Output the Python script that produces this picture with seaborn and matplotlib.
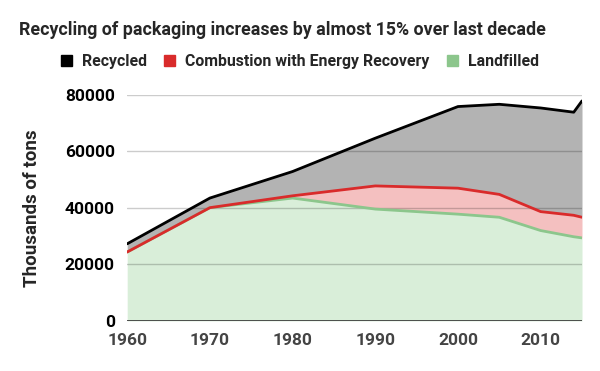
import numpy as np
import pandas as pd
import matplotlib
matplotlib.use('Agg')
import matplotlib.pyplot as plt
from matplotlib.patches import Patch
import seaborn as sns

# packaging waste, thousands of tons
years = [1960, 1970, 1980, 1990, 2000, 2005, 2010, 2014, 2015]
recycled = [2900, 3400, 8600, 16900, 28900, 31900, 36700, 36500, 41200]
combustion = [0, 0, 800, 8200, 9200, 8100, 6700, 7600, 7300]
landfilled = [24400, 40100, 43500, 39600, 37800, 36700, 32000, 29800, 29400]
series_names = ['Recycled', 'Combustion with Energy Recovery', 'Landfilled']
x_ticks = [1960, 1970, 1980, 1990, 2000, 2010]
y_ticks = [0, 20000, 40000, 60000, 80000]

sns.set_theme(style='white')
plt.rcParams['font.family'] = ['Roboto', 'DejaVu Sans']
plt.rcParams['font.weight'] = 'bold'

df = pd.DataFrame({'year': years, 'recycled': recycled,
                   'combustion': combustion, 'landfilled': landfilled})
# stacked totals: landfilled at the bottom, recycled on top
df['low'] = df['landfilled']
df['mid'] = df['low'] + df['combustion']
df['top'] = df['mid'] + df['recycled']

fig = plt.figure(figsize=(6, 3.71), dpi=100)
ax = fig.add_axes([0.212, 0.135, 0.758, 0.609])

ax.fill_between(df['year'], 0, df['low'], color='#d9eed9', lw=0, zorder=1)
ax.fill_between(df['year'], df['low'], df['mid'], color='#f4c0c0', lw=0, zorder=1)
ax.fill_between(df['year'], df['mid'], df['top'], color='#b3b3b3', lw=0, zorder=1)

sns.lineplot(data=df, x='year', y='low', color='#8cc68c', lw=2, ax=ax, zorder=4)
sns.lineplot(data=df, x='year', y='mid', color='#d92b2b', lw=2, ax=ax, zorder=5)
sns.lineplot(data=df, x='year', y='top', color='black', lw=2, ax=ax, zorder=6)

ax.set_xlim(1960, 2015)
ax.set_ylim(0, 80000)
ax.set_xticks(x_ticks)
ax.set_yticks(y_ticks)
ax.set_xticklabels([str(t) for t in x_ticks], color='#444444', fontsize=12.5, fontweight='bold')
ax.set_yticklabels([str(t) for t in y_ticks], color='black', fontsize=12.5, fontweight='bold')
ax.tick_params(axis='x', length=0, pad=9)
ax.tick_params(axis='y', length=0, pad=9)

for yv in y_ticks[1:]:
    ax.axhline(yv, color='black', alpha=0.2, lw=1, zorder=3)
ax.axhline(0, color='#333333', lw=1.2, zorder=7)

for s in ax.spines.values():
    s.set_visible(False)

ax.set_xlabel('')
ax.set_ylabel('Thousands of tons', fontsize=13.5, fontweight='bold', labelpad=17)

fig.text(0.032, 0.918, 'Recycling of packaging increases by almost 15% over last decade',
         fontsize=12.8, fontweight='bold', va='center', ha='left')

handles = [Patch(color='black'), Patch(color='#d92b2b'), Patch(color='#8cc68c')]
fig.legend(handles, series_names, loc='center', bbox_to_anchor=(0.5, 0.833), ncol=3,
           frameon=False, handlelength=0.69, handleheight=0.69,
           handletextpad=0.63, columnspacing=1.1, prop={'weight': 'bold', 'size': 11.4})

fig.savefig('out.png', dpi=100)
